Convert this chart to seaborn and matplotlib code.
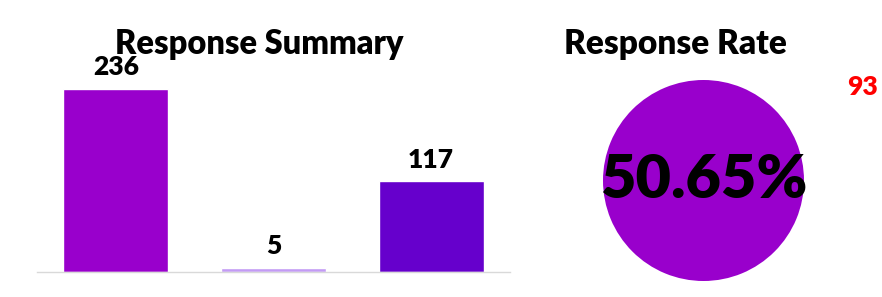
import matplotlib
matplotlib.use('Agg')
import matplotlib.pyplot as plt
import seaborn as sns
import pandas as pd

sns.set_theme(style='white')
plt.rcParams['font.family'] = ['Lato', 'DejaVu Sans']
plt.rcParams['font.weight'] = 'bold'

# data
categories = ['Responded', 'Bounced', 'No Response']
counts = [236, 5, 117]
bar_colors = ['#9900CC', '#C39BF5', '#6600CC']
response_rate = 50.65
side_value = 93

W, H = 882, 297
fig = plt.figure(figsize=(W / 100, H / 100), dpi=100)

# bar chart
ax = fig.add_axes([37 / W, 1 - 272 / H, 473 / W, 212 / H])
df = pd.DataFrame({'category': categories, 'count': counts})
sns.barplot(data=df, x='category', y='count', hue='category', palette=bar_colors,
            width=0.665, legend=False, ax=ax, saturation=1)
ax.set_xlim(-0.5, 2.5)
ax.set_ylim(0, 273.5)
ax.set_xticks([])
ax.set_yticks([])
ax.set_xlabel('')
ax.set_ylabel('')
for s in ['top', 'left', 'right']:
    ax.spines[s].set_visible(False)
ax.spines['bottom'].set_color('#D9D9D9')
ax.spines['bottom'].set_linewidth(1)
for i, v in enumerate(counts):
    ax.annotate(str(v), (i, v), xytext=(0, 7), textcoords='offset points',
                ha='center', va='bottom', fontsize=19, fontweight='heavy', color='black')

fig.text(259 / W, 1 - 44 / H, 'Response Summary', ha='center', va='center',
         fontsize=23.5, fontweight='heavy', color='black')

# response rate circle (single full wedge)
ax2 = fig.add_axes([603 / W, 1 - 281 / H, 201 / W, 201 / H])
ax2.pie([100], colors=['#9900CC'], startangle=90, wedgeprops={'linewidth': 0})
ax2.set_xlim(-1, 1)
ax2.set_ylim(-1, 1)
ax2.text(0, 0, f'{response_rate:.2f}%', ha='center', va='center',
         fontsize=44, fontweight='heavy', color='black')

fig.text(675 / W, 1 - 44 / H, 'Response Rate', ha='center', va='center',
         fontsize=24, fontweight='heavy', color='black')
fig.text(862 / W, 1 - 87 / H, str(side_value), ha='center', va='center',
         fontsize=19, fontweight='heavy', color='#FF0000')

fig.savefig('out.png', dpi=100)
